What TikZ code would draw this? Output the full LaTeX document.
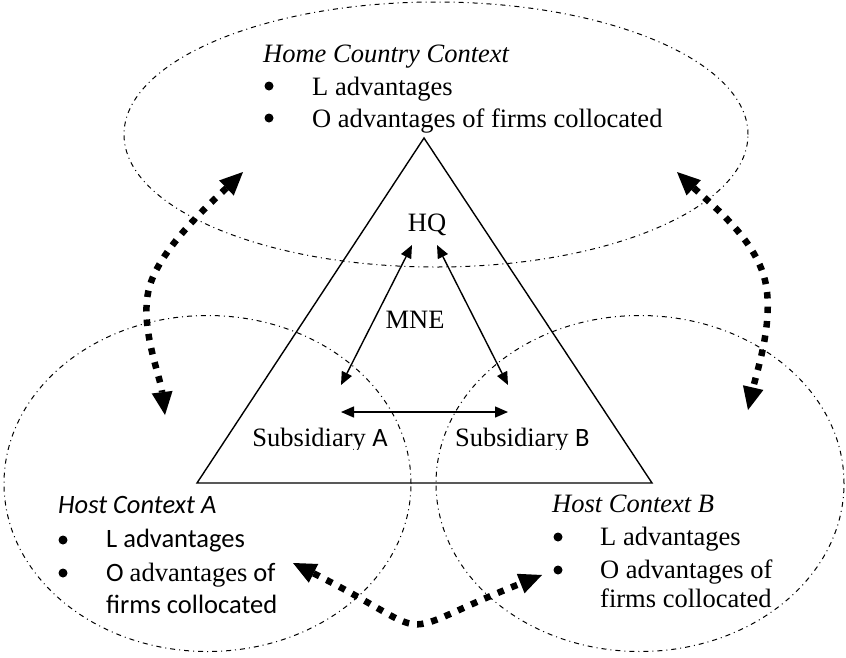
\documentclass[tikz,border=0pt]{standalone}
\usepackage{fontspec}
\setmainfont{Liberation Serif}
\newfontfamily\calfont{Carlito}
\usetikzlibrary{arrows.meta}
\begin{document}
\begin{tikzpicture}[x=1pt,y=-1pt,
  ctx/.style={line width=1pt, dash pattern=on 5pt off 4pt on 1pt off 4pt},
  tri/.style={line width=1.4pt, line join=miter},
  thinarrow/.style={line width=1.4pt, >={Triangle[length=13pt,width=11pt]}, <->},
  dotarrow/.style={line width=6.5pt, dash pattern=on 6.5pt off 8pt, >={Triangle[length=23pt,width=21pt,line width=0pt]}, <->},
  txt/.style={anchor=base west, inner sep=0pt, font=\fontsize{26.5}{30}\selectfont},
  txte/.style={anchor=base east, inner sep=0pt, font=\fontsize{26.5}{30}\selectfont},
  txtc/.style={anchor=base, inner sep=0pt, font=\fontsize{26.5}{30}\selectfont},
  bul/.style={circle, fill=black, inner sep=0pt, minimum size=9pt}]
\useasboundingbox (0,0) rectangle (846,657);
\fill[white] (0,0) rectangle (846,657);

% context ellipses
\draw[ctx] (436,134.5) ellipse [x radius=312pt, y radius=132.5pt];
\draw[ctx] (207.5,483.5) ellipse [x radius=203.5pt, y radius=168pt];
\draw[ctx] (640,483.5) ellipse [x radius=204pt, y radius=168pt];

% MNE triangle
\draw[tri] (424,138) -- (652,483) -- (197,483) -- cycle;

% texts
\node[txt] (home) at (263,62) {\itshape Home Country Context};
\node[bul] (hb1) at (269,86) {};
\node[txt] (hl) at (312,95) {L advantages};
\node[bul] (hb2) at (269,118) {};
\node[txt] (ho) at (312,127) {O advantages of firms collocated};

\node[txtc] (hq) at (427,231) {HQ};
\node[txtc] (mne) at (415,328) {MNE};
\begin{scope}
  \clip (230,400) rectangle (620,449);
  \node[txte] (suba) at (388,446) {Subsidiary {\calfont A}};
  \node[txt] (subb) at (455,446) {Subsidiary {\calfont B}};
\end{scope}

\node[txt] (hosta) at (58,513) {\calfont\itshape Host Context A};
\node[bul] (ab1) at (63,540) {};
\node[txt] (al) at (106,547) {\calfont L advantages};
\node[bul] (ab2) at (63,573) {};
\node[txt] (ao) at (106,581) {{\calfont O }advantages{\calfont\ of}};
\node[txt] (af) at (106,613) {\calfont firms collocated};

\node[txt] (hostb) at (552,512) {\itshape Host Context B};
\node[bul] (bb1) at (558,537) {};
\node[txt] (bl) at (600,545) {L advantages};
\node[bul] (bb2) at (558,570) {};
\node[txt] (bo) at (600,578) {O advantages of};
\node[txt] (bf) at (600,607) {firms collocated};

% thin arrows inside MNE
\coordinate (hqL) at (412,245);
\coordinate (hqR) at (437,245);
\coordinate (saT) at (341,385);
\coordinate (sbT) at (508,385);
\coordinate (saS) at (341,412);
\coordinate (sbS) at (508,412);
\draw[thinarrow] (hqL) -- (saT);
\draw[thinarrow] (hqR) -- (sbT);
\draw[thinarrow] (saS) -- (sbS);

% thick dotted arrows between contexts
\coordinate (homeL) at (243,172);
\coordinate (hostAT) at (165,415);
\coordinate (homeR) at (677,172);
\coordinate (hostBT) at (748,410);
\coordinate (hostAB) at (293,563);
\coordinate (hostBB) at (542,575);
\draw[dotarrow] (homeL) .. controls (214,200) and (162,246) .. (150,285)
  .. controls (138,323) and (160,375) .. (hostAT);
\draw[dotarrow] (homeR) .. controls (713,206) and (758,241) .. (766,285)
  .. controls (773,324) and (757,371) .. (hostBT);
\draw[dotarrow] (hostAB) .. controls (446,640) and (382,639) .. (hostBB);
\end{tikzpicture}
\end{document}
